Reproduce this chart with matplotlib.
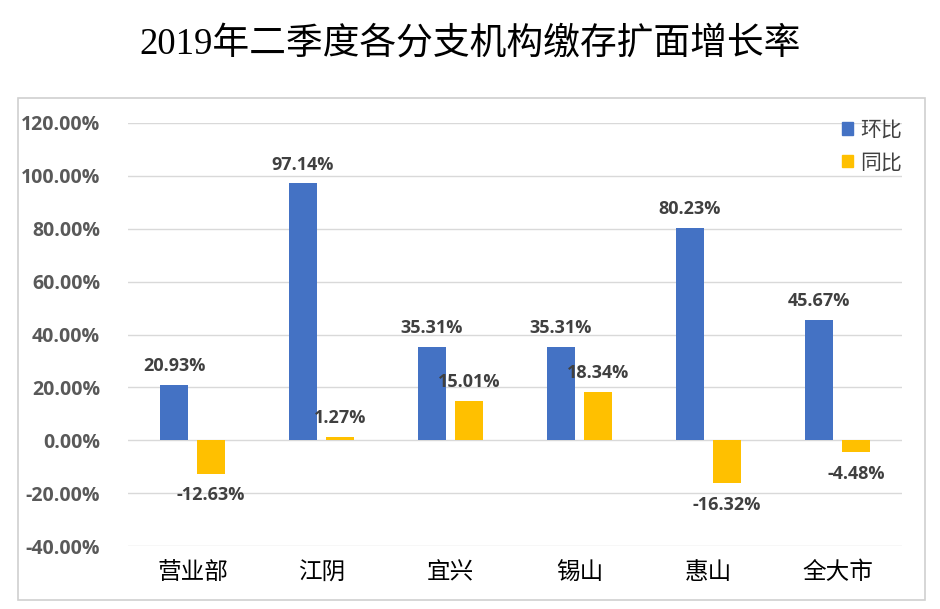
import numpy as np
import matplotlib.pyplot as plt
from matplotlib.patches import Patch, Rectangle

# data
categories = ['营业部', '江阴', '宜兴', '锡山', '惠山', '全大市']
huanbi = [20.93, 97.14, 35.31, 35.31, 80.23, 45.67]   # 环比, %
tongbi = [-12.63, 1.27, 15.01, 18.34, -16.32, -4.48]  # 同比, %
yticks = [-40, -20, 0, 20, 40, 60, 80, 100, 120]

BLUE = '#4472C4'
YELLOW = '#FFC000'
CJK = ['Open Sans', 'Noto Sans CJK SC', 'DejaVu Sans']

plt.rcParams['font.family'] = CJK

fig = plt.figure(figsize=(9.4, 6.09), dpi=100)
fig.patch.set_facecolor('white')

# outer chart frame
fig.patches.append(Rectangle((18 / 940, 1 - 600 / 609), 907 / 940, 502 / 609,
                             transform=fig.transFigure, fill=False,
                             edgecolor='#D0D0D0', linewidth=1.2))

fig.text(470 / 940, 1 - 44 / 609, '2019年二季度各分支机构缴存扩面增长率',
         ha='center', va='center', fontsize=26.5,
         family=['Liberation Serif', 'Noto Sans CJK SC'])

ax = fig.add_axes([128 / 940, 1 - 546 / 609, 774 / 940, 423 / 609])
x = np.arange(len(categories))
w = 0.22
off = 0.143

ax.bar(x - off, huanbi, w, color=BLUE, zorder=3)
ax.bar(x + off, tongbi, w, color=YELLOW, zorder=3)

lab = dict(fontsize=13, fontweight='bold', color='#404040', ha='center',
           textcoords='offset points')
for xi, v in zip(x, huanbi):
    ax.annotate(f'{v:.2f}%', (xi - off, v), xytext=(0, 7), va='bottom', **lab)
for xi, v in zip(x, tongbi):
    if v >= 0:
        ax.annotate(f'{v:.2f}%', (xi + off, v), xytext=(0, 7), va='bottom', **lab)
    else:
        ax.annotate(f'{v:.2f}%', (xi + off, v), xytext=(0, -9), va='top', **lab)

ax.set_xlim(-0.5, len(categories) - 0.5)
ax.set_ylim(-40, 120)
ax.set_yticks(yticks)
ax.set_yticklabels([f'{t:.2f}%' for t in yticks], fontsize=14,
                   fontweight='bold', color='#595959')
ax.set_xticks(x)
ax.set_xticklabels(categories, fontsize=17, color='black')
ax.tick_params(axis='both', length=0)
ax.tick_params(axis='y', pad=20)
ax.tick_params(axis='x', pad=11)
ax.grid(axis='y', color='#D9D9D9', linewidth=1, zorder=0)
for s in ax.spines.values():
    s.set_visible(False)

handles = [Patch(color=BLUE, label='环比'), Patch(color=YELLOW, label='同比')]
leg = fig.legend(handles=handles, loc='upper right',
                 bbox_to_anchor=(921 / 940, 1 - 101 / 609),
                 frameon=False, fontsize=15, handlelength=0.55, handleheight=0.55,
                 handletextpad=0.35, labelspacing=0.55)
for t in leg.get_texts():
    t.set_color('#404040')

fig.savefig('out.png', dpi=100, facecolor='white')
